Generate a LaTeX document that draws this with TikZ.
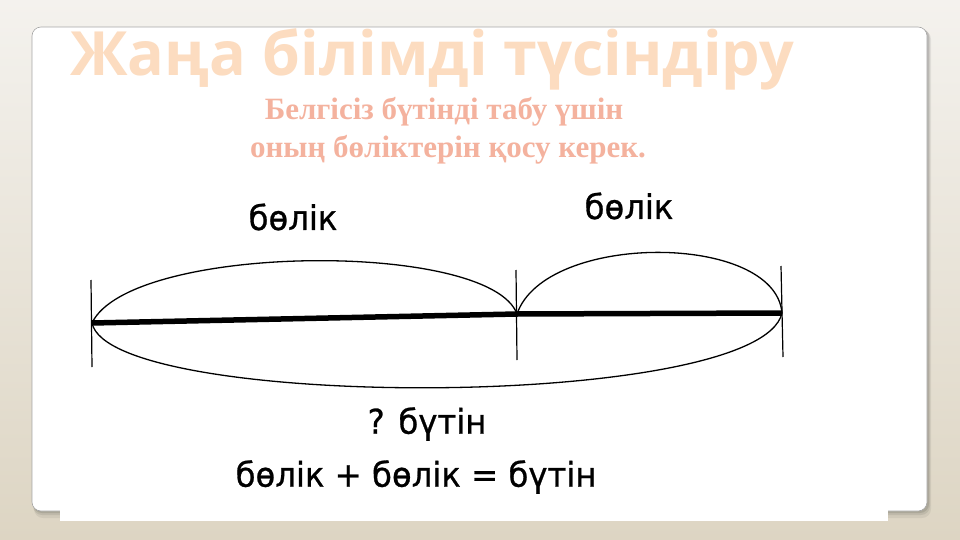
\documentclass[tikz,border=0pt]{standalone}
\usepackage{fontspec}
\newfontfamily\titlefont{Open Sans}
\newfontfamily\subfont{Liberation Serif}
\newfontfamily\scanfont[FakeBold=0.8]{DejaVu Sans}
\usetikzlibrary{calc}
\definecolor{bgtop}{RGB}{244,242,238}
\definecolor{bgbot}{RGB}{221,213,195}
\definecolor{titlec}{RGB}{252,220,192}
\definecolor{subc}{RGB}{244,178,158}
\tikzset{
  ink/.style={line width=1.3pt, black},
  barline/.style={line width=5.5pt, black},
  tick/.style={line width=1.2pt, black},
  scantext/.style={font=\scanfont\fontsize{34}{38}\selectfont, inner sep=0pt},
  toplabel/.style={font=\scanfont\fontsize{34}{38}\selectfont, inner sep=0pt},
  subtext/.style={font=\subfont\bfseries\fontsize{31}{34}\selectfont, text=subc, inner sep=0pt}
}
\begin{document}
\begin{tikzpicture}[x=1pt,y=-1pt]
\useasboundingbox (0,0) rectangle (960,540);
% background
\shade[top color=bgtop, bottom color=bgbot] (0,0) rectangle (960,540);
% card shadow
\fill[black, opacity=0.06, rounded corners=9pt] (34,30) rectangle (931,518);
\fill[black, opacity=0.08, rounded corners=9pt] (33,29) rectangle (930,515);
\fill[black, opacity=0.10, rounded corners=9pt] (33,28) rectangle (929,513);
% card
\draw[fill=white, draw=black!35, line width=0.6pt, rounded corners=9pt] (32,27) rectangle (927,511);
% title
\node[anchor=base west, inner sep=0pt, text=titlec, font=\titlefont\bfseries\fontsize{61}{66}\selectfont] (title) at (70,76) {Жаңа білімді түсіндіру};
% subtitle
\node[subtext] (sub1) at (444,112) {Белгісіз бүтінді табу үшін};
\node[subtext] (sub2) at (448,150) {оның бөліктерін қосу керек.};
% scan area
\fill[white] (60,190) rectangle (888,521);
% key points
\coordinate (A) at (92,323);
\coordinate (M) at (517,314);
\coordinate (B) at (782,313);
\coordinate (At) at (91,280); \coordinate (Ab) at (92,367);
\coordinate (Mt) at (516,270); \coordinate (Mb) at (517,360);
\coordinate (Bt) at (781,266); \coordinate (Bb) at (783,357);
% ticks
\draw[tick] (At) -- (Ab);
\draw[tick] (Mt) -- (Mb);
\draw[tick] (Bt) -- (Bb);
% bar
\draw[barline] (A) -- (M) -- (B);
% arcs
\draw[ink] (A) .. controls (130,243) and (490,240) .. (M);
\draw[ink] (M) .. controls (545,232) and (775,232) .. (B);
\draw[ink] (A) .. controls (110,411) and (760,411) .. (B);
% labels
\node[toplabel] (p1) at (293,217) {\scalebox{0.95}[1]{бөлік}};
\node[toplabel] (p2) at (629,206) {\scalebox{0.95}[1]{бөлік}};
\node[scantext] (w) at (427,424) {\scalebox{0.95}[1]{? бүтін}};
\node[scantext] (eq) at (416,477) {\scalebox{0.95}[1]{бөлік + бөлік = бүтін}};
\end{tikzpicture}
\end{document}
